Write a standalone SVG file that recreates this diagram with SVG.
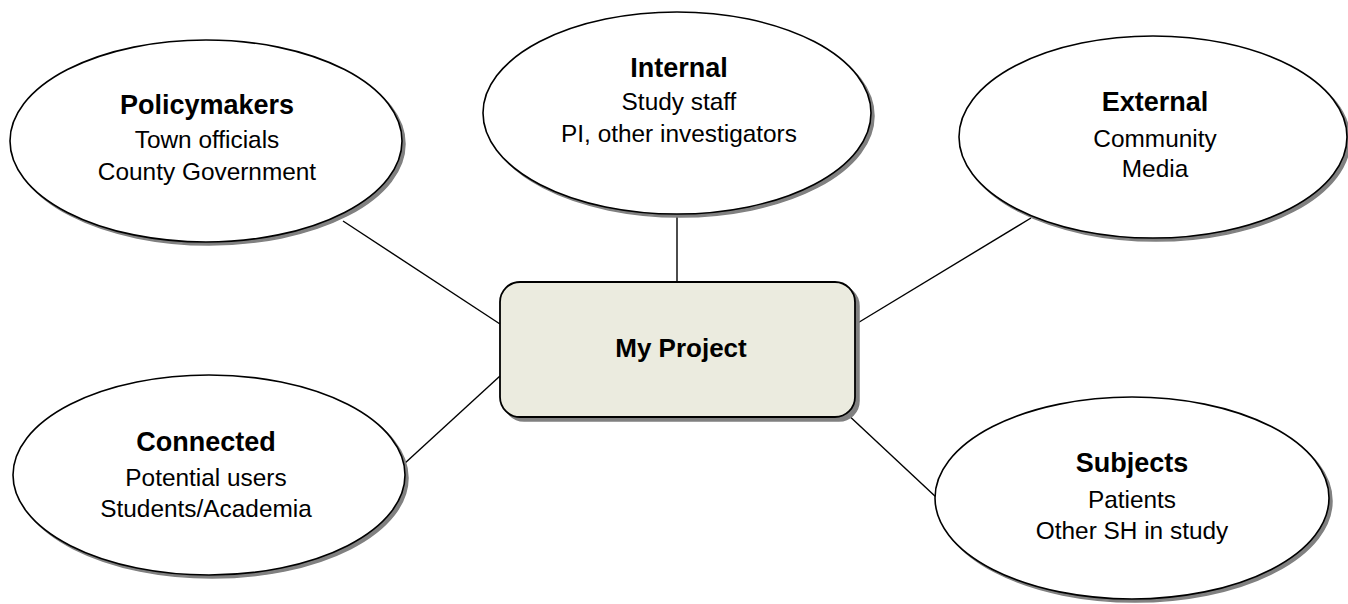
<svg xmlns="http://www.w3.org/2000/svg" width="1348" height="604" viewBox="0 0 1348 604">
<style>
.shadow{fill:#808080;stroke:#808080;stroke-width:1.5}
.oval{fill:#ffffff;stroke:#000000;stroke-width:1.6}
.box{fill:#EBEBDF;stroke:#000000;stroke-width:1.8}
.conn line{stroke:#000000;stroke-width:1.4}
text{font-family:"Liberation Sans",Arial,sans-serif;fill:#000000;text-anchor:middle}
.t{font-weight:bold;font-size:27px}
.b{font-size:24.4px}
.p{font-weight:bold;font-size:26px}
</style>
<rect x="0" y="0" width="1348" height="604" fill="#ffffff"/>
<g id="connectors" class="conn">
<line x1="343" y1="221" x2="500" y2="324"/>
<line x1="404" y1="464" x2="500" y2="376"/>
<line x1="677" y1="214" x2="677" y2="282"/>
<line x1="856" y1="324" x2="1031" y2="218"/>
<line x1="845" y1="412" x2="937" y2="498"/>
</g>
<g id="policymakers">
<ellipse class="shadow" cx="209" cy="144" rx="196" ry="101"/>
<ellipse class="oval" cx="206" cy="141" rx="196" ry="101"/>
<text class="t" x="207" y="114">Policymakers</text>
<text class="b" x="207" y="148">Town officials</text>
<text class="b" x="207" y="180">County Government</text>
</g>
<g id="internal">
<ellipse class="shadow" cx="680" cy="116" rx="194" ry="101"/>
<ellipse class="oval" cx="677" cy="113" rx="194" ry="101"/>
<text class="t" x="679" y="77">Internal</text>
<text class="b" x="679" y="110">Study staff</text>
<text class="b" x="679" y="142">PI, other investigators</text>
</g>
<g id="external">
<ellipse class="shadow" cx="1156" cy="140" rx="194" ry="101"/>
<ellipse class="oval" cx="1153" cy="137" rx="194" ry="101"/>
<text class="t" x="1155" y="111">External</text>
<text class="b" x="1155" y="147">Community</text>
<text class="b" x="1155" y="177">Media</text>
</g>
<g id="connected">
<ellipse class="shadow" cx="212" cy="478" rx="196" ry="100"/>
<ellipse class="oval" cx="209" cy="475" rx="196" ry="100"/>
<text class="t" x="206" y="451">Connected</text>
<text class="b" x="206" y="486">Potential users</text>
<text class="b" x="206" y="517">Students/Academia</text>
</g>
<g id="subjects">
<ellipse class="shadow" cx="1135" cy="501" rx="197" ry="101"/>
<ellipse class="oval" cx="1132" cy="498" rx="197" ry="101"/>
<text class="t" x="1132" y="472">Subjects</text>
<text class="b" x="1132" y="508">Patients</text>
<text class="b" x="1132" y="539">Other SH in study</text>
</g>
<g id="my-project">
<rect class="shadow" x="504" y="286" width="355" height="135" rx="20" ry="20"/>
<rect class="box" x="500" y="282" width="355" height="135" rx="20" ry="20"/>
<text class="p" x="681" y="357">My Project</text>
</g>
</svg>
